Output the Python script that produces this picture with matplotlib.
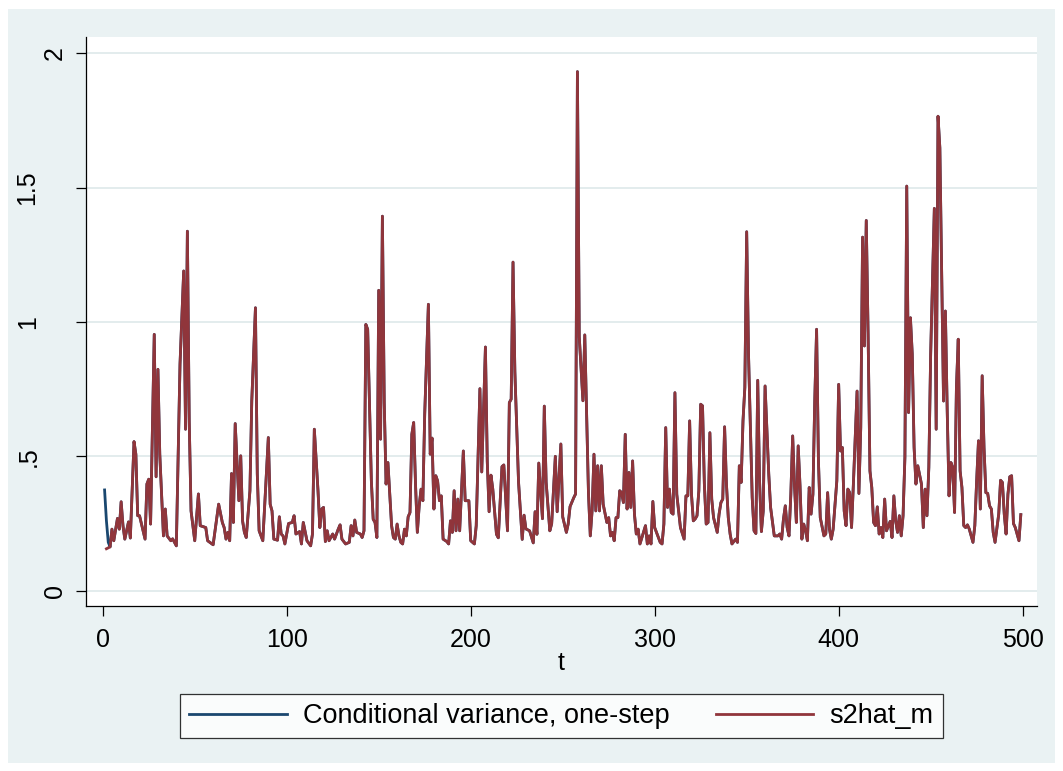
import matplotlib
matplotlib.use("Agg")
import matplotlib.pyplot as plt
import matplotlib.transforms as mtransforms
from matplotlib.patches import Rectangle
from matplotlib.lines import Line2D

plt.rcParams['font.family'] = ['Liberation Sans', 'DejaVu Sans']

# ---- data ----
t_s2hat = [2, 4, 5, 6, 8, 9, 10, 11, 12, 14, 15, 17, 18, 19, 20, 23, 24, 25, 26, 28,
           29, 30, 31, 33, 34, 35, 37, 38, 40, 42, 44, 45, 46, 47, 48, 50, 52, 53, 56, 57,
           60, 63, 65, 66, 67, 68, 69, 70, 71, 72, 74, 75, 76, 77, 78, 80, 81, 83, 84, 85,
           87, 90, 91, 92, 93, 95, 96, 97, 98, 99, 101, 103, 104, 105, 107, 108, 109, 111, 113, 114,
           115, 117, 118, 119, 120, 121, 122, 123, 125, 126, 128, 129, 130, 132, 134, 135, 136, 137, 138, 140,
           141, 142, 143, 144, 146, 147, 148, 149, 150, 151, 152, 153, 154, 155, 157, 158, 159, 160, 161, 162,
           163, 164, 165, 166, 167, 168, 169, 170, 171, 172, 173, 174, 175, 177, 178, 179, 180, 181, 182, 183,
           184, 185, 187, 188, 189, 190, 191, 192, 193, 194, 196, 197, 199, 200, 202, 203, 205, 206, 208, 209,
           210, 211, 212, 214, 215, 217, 218, 220, 221, 222, 223, 224, 226, 228, 229, 230, 232, 234, 235, 236,
           237, 239, 240, 241, 243, 244, 246, 247, 249, 250, 252, 253, 254, 256, 257, 258, 259, 261, 262, 264,
           265, 266, 267, 268, 269, 270, 271, 272, 274, 275, 276, 277, 278, 279, 280, 281, 282, 283, 284, 285,
           286, 287, 288, 289, 290, 291, 292, 295, 296, 297, 298, 299, 300, 301, 303, 304, 305, 306, 307, 308,
           309, 310, 311, 312, 313, 314, 316, 317, 318, 319, 320, 321, 322, 323, 324, 325, 326, 327, 328, 329,
           330, 331, 332, 334, 335, 336, 337, 338, 339, 340, 341, 342, 344, 345, 346, 347, 348, 349, 350, 351,
           353, 354, 355, 356, 357, 358, 359, 360, 362, 363, 365, 367, 368, 369, 370, 371, 372, 373, 374, 375,
           376, 377, 378, 379, 380, 381, 382, 383, 384, 385, 386, 387, 388, 389, 390, 392, 393, 394, 395, 396,
           397, 399, 400, 401, 402, 403, 404, 405, 406, 407, 408, 410, 411, 412, 413, 414, 415, 416, 417, 418,
           419, 420, 421, 422, 423, 424, 425, 426, 428, 429, 430, 431, 432, 433, 434, 435, 436, 437, 438, 439,
           440, 441, 442, 443, 445, 446, 447, 448, 449, 450, 452, 453, 454, 455, 457, 458, 459, 460, 461, 462,
           463, 464, 465, 466, 467, 468, 469, 470, 471, 473, 474, 475, 476, 477, 478, 479, 480, 481, 482, 483,
           484, 485, 487, 488, 489, 490, 491, 492, 493, 494, 495, 496, 498, 499]
v_s2hat = [0.156, 0.163, 0.229, 0.186, 0.269, 0.229, 0.331, 0.242, 0.192, 0.256, 0.196, 0.555, 0.508, 0.279, 0.279, 0.192, 0.397, 0.415, 0.248, 0.954,
           0.424, 0.824, 0.508, 0.204, 0.304, 0.204, 0.186, 0.193, 0.167, 0.843, 1.19, 0.601, 1.338, 0.632, 0.297, 0.186, 0.36, 0.242, 0.235, 0.186,
           0.171, 0.322, 0.254, 0.235, 0.192, 0.217, 0.186, 0.436, 0.254, 0.622, 0.335, 0.502, 0.26, 0.217, 0.198, 0.372, 0.706, 1.053, 0.434, 0.223,
           0.186, 0.57, 0.322, 0.297, 0.192, 0.188, 0.275, 0.211, 0.204, 0.174, 0.25, 0.254, 0.279, 0.211, 0.22, 0.174, 0.254, 0.186, 0.167, 0.211,
           0.601, 0.372, 0.235, 0.304, 0.31, 0.183, 0.223, 0.186, 0.211, 0.192, 0.229, 0.245, 0.192, 0.174, 0.18, 0.242, 0.204, 0.263, 0.217, 0.211,
           0.198, 0.223, 0.991, 0.973, 0.409, 0.266, 0.254, 0.198, 1.118, 0.564, 1.394, 0.7, 0.397, 0.477, 0.242, 0.198, 0.192, 0.248, 0.204, 0.18,
           0.174, 0.229, 0.204, 0.275, 0.291, 0.582, 0.626, 0.397, 0.217, 0.316, 0.378, 0.335, 0.657, 1.066, 0.508, 0.568, 0.304, 0.428, 0.409, 0.335,
           0.353, 0.192, 0.183, 0.174, 0.26, 0.217, 0.372, 0.223, 0.341, 0.223, 0.52, 0.335, 0.335, 0.186, 0.174, 0.242, 0.752, 0.442, 0.907, 0.481,
           0.294, 0.43, 0.378, 0.21, 0.197, 0.462, 0.468, 0.223, 0.70, 0.713, 1.223, 0.816, 0.404, 0.191, 0.281, 0.23, 0.223, 0.178, 0.294, 0.21,
           0.475, 0.268, 0.687, 0.404, 0.223, 0.249, 0.50, 0.294, 0.546, 0.275, 0.217, 0.249, 0.313, 0.346, 0.36, 1.932, 0.945, 0.707, 0.952, 0.365,
           0.204, 0.30, 0.508, 0.297, 0.465, 0.297, 0.465, 0.322, 0.254, 0.272, 0.204, 0.217, 0.186, 0.272, 0.272, 0.372, 0.365, 0.328, 0.582, 0.304,
           0.44, 0.31, 0.483, 0.285, 0.211, 0.229, 0.174, 0.242, 0.174, 0.204, 0.174, 0.332, 0.235, 0.217, 0.18, 0.174, 0.248, 0.607, 0.31, 0.378,
           0.291, 0.285, 0.737, 0.359, 0.297, 0.235, 0.192, 0.353, 0.353, 0.632, 0.359, 0.26, 0.267, 0.279, 0.372, 0.694, 0.688, 0.397, 0.248, 0.254,
           0.588, 0.341, 0.272, 0.217, 0.285, 0.328, 0.341, 0.61, 0.397, 0.272, 0.211, 0.174, 0.192, 0.18, 0.465, 0.403, 0.632, 0.756, 1.336, 0.88,
           0.347, 0.223, 0.213, 0.783, 0.409, 0.22, 0.297, 0.762, 0.434, 0.31, 0.204, 0.204, 0.211, 0.192, 0.267, 0.316, 0.235, 0.204, 0.359, 0.576,
           0.39, 0.254, 0.539, 0.39, 0.192, 0.248, 0.223, 0.186, 0.384, 0.285, 0.359, 0.706, 0.973, 0.483, 0.272, 0.204, 0.211, 0.365, 0.229, 0.192,
           0.229, 0.409, 0.768, 0.52, 0.533, 0.297, 0.242, 0.378, 0.365, 0.235, 0.397, 0.743, 0.362, 0.607, 1.316, 0.911, 1.378, 0.954, 0.446, 0.384,
           0.254, 0.242, 0.312, 0.211, 0.235, 0.198, 0.341, 0.223, 0.258, 0.198, 0.353, 0.26, 0.217, 0.279, 0.204, 0.279, 0.496, 1.506, 0.663, 1.016,
           0.88, 0.533, 0.397, 0.465, 0.397, 0.235, 0.378, 0.279, 0.459, 0.88, 1.423, 0.601, 1.766, 1.648, 0.706, 1.041, 0.669, 0.353, 0.477, 0.459,
           0.291, 0.756, 0.936, 0.446, 0.384, 0.242, 0.235, 0.245, 0.229, 0.18, 0.242, 0.409, 0.558, 0.304, 0.80, 0.533, 0.365, 0.362, 0.316, 0.304,
           0.217, 0.18, 0.285, 0.411, 0.403, 0.285, 0.211, 0.359, 0.424, 0.428, 0.25, 0.235, 0.186, 0.283]

# one-step conditional variance: first periods differ, afterwards coincides with s2hat_m
t_cv_start = [1, 2, 3]
v_cv_start = [0.375, 0.26, 0.18]
t_condvar = t_cv_start + t_s2hat[1:]
v_condvar = v_cv_start + v_s2hat[1:]

x_ticks = [0, 100, 200, 300, 400, 500]
y_ticks = [0, 0.5, 1, 1.5, 2]
y_ticklabels = ['0', '.5', '1', '1.5', '2']
legend_labels = ['Conditional variance, one-step', 's2hat_m']

navy = '#1a476f'
maroon = '#90353b'
bg = '#eaf2f3'

W, H = 1063, 771
fig = plt.figure(figsize=(W / 100, H / 100), dpi=100, facecolor='white')
fig.patches.append(Rectangle((8 / W, 1 - 763 / H), 1047 / W, 754 / H,
                             transform=fig.transFigure, facecolor=bg,
                             edgecolor='none', zorder=-10))

ax = fig.add_axes([86 / W, 1 - 606 / H, (1037 - 86) / W, (606 - 37) / H])
ax.set_facecolor('white')
ax.plot(t_condvar, v_condvar, color=navy, lw=2.0, zorder=3,
        solid_joinstyle='round')
ax.plot(t_s2hat, v_s2hat, color=maroon, lw=2.0, zorder=4,
        solid_joinstyle='round')

ax.set_xlim(-9.1, 507.8)
ax.set_ylim(-0.057, 2.061)

for s in ['top', 'right']:
    ax.spines[s].set_visible(False)
for s in ['left', 'bottom']:
    ax.spines[s].set_color('black')
    ax.spines[s].set_linewidth(0.9)

ax.set_xticks(x_ticks)
ax.set_xticklabels([str(v) for v in x_ticks], fontsize=18)
ax.set_yticks(y_ticks)
ax.set_yticklabels([])
ax.tick_params(axis='both', direction='out', length=7.5, width=0.9, color='black')
ax.tick_params(axis='x', pad=8)

ax.grid(axis='y', color='#e3eced', lw=1.4)
ax.set_axisbelow(True)

# rotated y tick labels (positions per label as in the reference)
label_x = {'0': 55, '.5': 29, '1': 28, '1.5': 27, '2': 55}
ytrans = mtransforms.blended_transform_factory(fig.transFigure, ax.transData)
for val, lab in zip(y_ticks, y_ticklabels):
    ax.text(label_x[lab] / W, val, lab, transform=ytrans, rotation=90,
            ha='center', va='center', fontsize=18, clip_on=False)

fig.text(561.5 / W, 1 - 663 / H, 't', ha='center', va='center', fontsize=18)

handles = [Line2D([], [], color=navy, lw=2.0), Line2D([], [], color=maroon, lw=2.0)]
leg = fig.legend(handles, legend_labels, loc='center', ncol=2,
                 bbox_to_anchor=(561.5 / W, 1 - 716 / H), fontsize=19.5,
                 frameon=True, fancybox=False, edgecolor='black',
                 handlelength=3.6, handletextpad=0.6, columnspacing=1.7,
                 borderpad=0.35)
leg.get_frame().set_linewidth(0.9)
leg.get_frame().set_facecolor('white')

fig.savefig('out.png', dpi=100, facecolor='white')
